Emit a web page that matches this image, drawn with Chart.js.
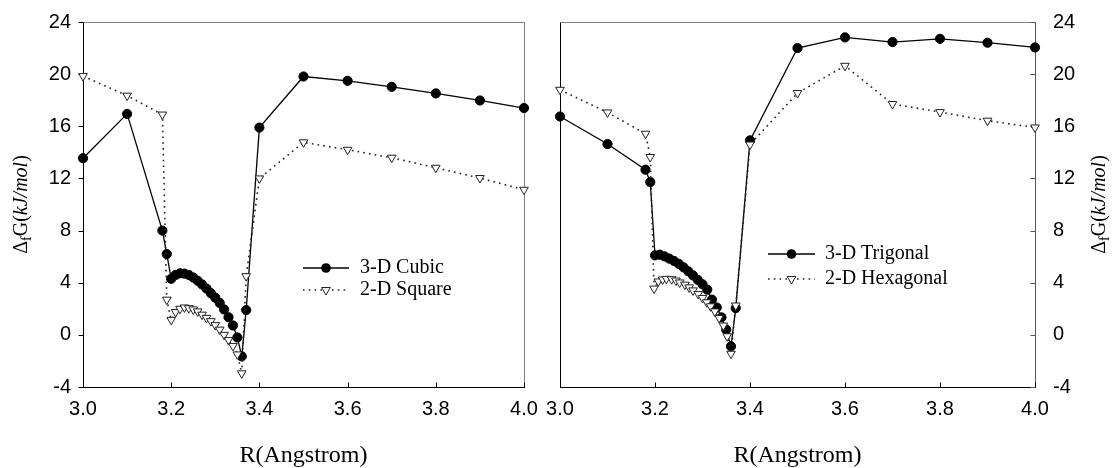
<!DOCTYPE html>
<html><head><meta charset="utf-8">
<script src="https://cdn.jsdelivr.net/npm/chart.js@4/dist/chart.umd.min.js"></script>
<style>
html,body{margin:0;padding:0;background:#fff;}
#wrap{position:relative;width:1112px;height:468px;overflow:hidden;background:#fff;}
.c{position:absolute;}
</style></head><body>
<div id="wrap">
<div class="c" style="left:-40px;top:-20px;width:596px;height:508px"><canvas id="c1" width="596" height="508"></canvas></div>
<div class="c" style="left:516px;top:-20px;width:616px;height:508px"><canvas id="c2" width="616" height="508"></canvas></div>
</div>
<script>
// ---- data ----
const xTickVals = [3.0, 3.2, 3.4, 3.6, 3.8, 4.0];
const xTickLabels = ['3.0', '3.2', '3.4', '3.6', '3.8', '4.0'];
const yTickVals = [-4, 0, 4, 8, 12, 16, 20, 24];
const yTickLabels = ['-4', '0', '4', '8', '12', '16', '20', '24'];

const leftR = [3.0, 3.1, 3.18, 3.19, 3.20, 3.21, 3.22, 3.23, 3.24, 3.25, 3.26, 3.27, 3.28, 3.29, 3.30, 3.31, 3.32, 3.33, 3.34, 3.35, 3.36, 3.37, 3.4, 3.5, 3.6, 3.7, 3.8, 3.9, 4.0];
const cubicG = [13.55, 16.95, 8.0, 6.2, 4.3, 4.6, 4.72, 4.7, 4.6, 4.4, 4.15, 3.87, 3.55, 3.2, 2.85, 2.45, 1.95, 1.35, 0.72, -0.2, -1.65, 1.9, 15.9, 19.82, 19.49, 19.03, 18.52, 17.98, 17.4];
const squareG = [19.85, 18.35, 16.9, 2.7, 1.15, 1.75, 2.0, 2.1, 2.05, 1.95, 1.8, 1.55, 1.3, 1.05, 0.75, 0.4, 0.0, -0.4, -0.85, -1.5, -2.95, 4.5, 12.0, 14.77, 14.2, 13.59, 12.82, 12.03, 11.13];

const trigR = [3.0, 3.1, 3.18, 3.19, 3.20, 3.21, 3.22, 3.23, 3.24, 3.25, 3.26, 3.27, 3.28, 3.29, 3.30, 3.31, 3.32, 3.33, 3.34, 3.35, 3.36, 3.37, 3.4, 3.5, 3.6, 3.7, 3.8, 3.9, 4.0];
const trigG = [16.75, 14.64, 12.67, 11.72, 6.1, 6.15, 6.02, 5.85, 5.67, 5.45, 5.18, 4.88, 4.56, 4.22, 3.88, 3.47, 2.7, 2.1, 1.34, 0.4, -0.88, 2.05, 14.92, 22.0, 22.82, 22.46, 22.71, 22.41, 22.05];

const hexR = [3.0, 3.1, 3.18, 3.19, 3.198, 3.207, 3.216, 3.224, 3.235, 3.244, 3.252, 3.263, 3.272, 3.28, 3.291, 3.30, 3.309, 3.317, 3.326, 3.335, 3.344, 3.352, 3.36, 3.37, 3.4, 3.5, 3.6, 3.7, 3.8, 3.9, 4.0];
const hexG = [18.8, 17.06, 15.43, 13.64, 3.55, 4.1, 4.25, 4.3, 4.27, 4.17, 4.02, 3.85, 3.64, 3.41, 3.13, 2.83, 2.5, 2.19, 1.8, 1.3, 0.71, -0.11, -1.45, 2.25, 14.6, 18.55, 20.64, 17.71, 17.09, 16.43, 15.91];

const xTitle = 'R(Angstrom)';
// ---- helpers ----
const SERIF = '"Liberation Serif", "Times New Roman", serif';
const SANS = '"Liberation Sans", Arial, sans-serif';

function pts(xs, ys) { return xs.map((x, i) => ({ x: x, y: ys[i] })); }

function solidSet(label, xs, ys) {
  return {
    label, data: pts(xs, ys), showLine: true, tension: 0, fill: false, clip: false, order: 2,
    borderColor: '#000', borderWidth: 1.3,
    pointStyle: 'circle', pointRadius: 4.6, pointBackgroundColor: '#000', pointBorderColor: '#000', pointBorderWidth: 1
  };
}
function dotSet(label, xs, ys) {
  return {
    label, data: pts(xs, ys), showLine: true, tension: 0, fill: false, clip: false, order: 1,
    borderColor: '#222', borderWidth: 1.6, borderDash: [1.6, 4.2],
    pointStyle: 'triangle', pointRotation: 180, pointRadius: 5, pointBackgroundColor: '#fff', pointBorderColor: '#222', pointBorderWidth: 1
  };
}

function line(ctx, x1, y1, x2, y2) { ctx.beginPath(); ctx.moveTo(x1, y1); ctx.lineTo(x2, y2); ctx.stroke(); }

function drawCircle(ctx, x, y) {
  ctx.save(); ctx.fillStyle = '#000'; ctx.beginPath(); ctx.arc(x, y, 4.8, 0, Math.PI * 2); ctx.fill(); ctx.restore();
}
function drawTri(ctx, x, y) {
  const r = 5; ctx.save(); ctx.fillStyle = '#fff'; ctx.strokeStyle = '#222'; ctx.lineWidth = 1; ctx.setLineDash([]);
  ctx.beginPath();
  for (let k = 0; k < 3; k++) {
    const a = Math.PI + k * 2 * Math.PI / 3;
    const px = x + Math.sin(a) * r, py = y - Math.cos(a) * r;
    if (k === 0) ctx.moveTo(px, py); else ctx.lineTo(px, py);
  }
  ctx.closePath(); ctx.fill(); ctx.stroke(); ctx.restore();
}

function drawYTitle(ctx, cx, cy) {
  const parts = [
    { t: 'Δ', f: '20px ' + SERIF, dy: 0 },
    { t: 'f', f: '14px ' + SERIF, dy: 5 },
    { t: 'G(', f: '20px ' + SERIF, dy: 0 },
    { t: 'kJ/mol', f: 'italic 20px ' + SERIF, dy: 0 },
    { t: ')', f: '20px ' + SERIF, dy: 0 }
  ];
  ctx.save();
  ctx.translate(cx, cy); ctx.rotate(-Math.PI / 2);
  ctx.fillStyle = '#000'; ctx.textBaseline = 'middle'; ctx.textAlign = 'left';
  let w = 0;
  parts.forEach(p => { ctx.font = p.f; p.w = ctx.measureText(p.t).width; w += p.w; });
  let x = -w / 2;
  parts.forEach(p => { ctx.font = p.f; ctx.fillText(p.t, x, p.dy); x += p.w; });
  ctx.restore();
}

// cfg: canvas offset (ox, oy) in page coords; legend & title given in page coords
function decoPlugin(side, cfg) {
  return {
    id: 'deco_' + side,
    beforeDatasetsDraw(chart) {
      const ctx = chart.ctx, a = chart.chartArea;
      const L = Math.round(a.left) + 0.5, R = Math.round(a.right) + 0.5, T = Math.round(a.top) + 0.5, B = Math.round(a.bottom) + 0.5;
      ctx.save();
      ctx.lineWidth = 1;
      ctx.strokeStyle = '#808080';
      line(ctx, L, T, R, T);
      if (side === 'left') {
        line(ctx, R, T, R, B);
        ctx.strokeStyle = '#000';
        line(ctx, L, T, L, B);
      } else {
        ctx.strokeStyle = '#000';
        line(ctx, L, T, L, B);
        ctx.strokeStyle = '#555';
        line(ctx, R, T, R, B);
      }
      ctx.strokeStyle = '#000';
      line(ctx, L - 0.5, B, R + 0.5, B);
      const xs = chart.scales.x, ys = chart.scales.y;
      xTickVals.forEach(v => { const px = Math.round(xs.getPixelForValue(v)) + 0.5; line(ctx, px, B, px, B - 5); });
      yTickVals.forEach(v => {
        const py = Math.round(ys.getPixelForValue(v)) + 0.5;
        if (side === 'left') { ctx.strokeStyle = '#000'; line(ctx, L - 5, py, L, py); }
        else { ctx.strokeStyle = '#555'; line(ctx, R - 5, py, R, py); }
      });
      ctx.restore();
    },
    afterDraw(chart) {
      const ctx = chart.ctx, a = chart.chartArea;
      const ox = cfg.ox, oy = cfg.oy;
      ctx.save();
      cfg.rows.forEach((row, i) => {
        const y = cfg.ly[i] - oy;
        const x1 = cfg.lx1 - ox, x2 = cfg.lx2 - ox;
        ctx.strokeStyle = i === 0 ? '#000' : '#222';
        ctx.lineWidth = i === 0 ? 1.3 : 1.6;
        ctx.setLineDash(i === 0 ? [] : [1.6, 4.2]);
        line(ctx, x1, y, x2, y);
        ctx.setLineDash([]);
        const mx = (x1 + x2) / 2;
        if (i === 0) drawCircle(ctx, mx, y); else drawTri(ctx, mx, y);
        ctx.fillStyle = '#000'; ctx.font = '20px ' + SERIF; ctx.textBaseline = 'middle'; ctx.textAlign = 'left';
        ctx.fillText(row, cfg.tx - ox, y);
      });
      ctx.restore();
      drawYTitle(ctx, cfg.titleX - ox, (a.top + a.bottom) / 2);
    }
  };
}

function makeScales(side) {
  return {
    x: {
      type: 'linear', min: 3, max: 4,
      afterBuildTicks(s) { s.ticks = xTickVals.map(v => ({ value: v })); },
      ticks: { callback: (v, i) => xTickLabels[i], font: { family: SANS, size: 20 }, color: '#000', padding: 10, maxRotation: 0, autoSkip: false },
      grid: { display: false, drawTicks: false }, border: { display: false },
      title: { display: true, text: xTitle, font: { family: SERIF, size: 24, lineHeight: 1 }, color: '#000', padding: 0 },
      afterFit(s) { s.height = 81; }
    },
    y: {
      type: 'linear', position: side, min: -4, max: 24,
      afterBuildTicks(s) { s.ticks = yTickVals.map(v => ({ value: v })); },
      ticks: { callback: (v, i) => yTickLabels[i], font: { family: SANS, size: 20 }, color: '#000', padding: side === 'left' ? 12 : 18, autoSkip: false },
      grid: { display: false, drawTicks: false }, border: { display: false },
      afterFit(s) { s.width = side === 'left' ? 83 : 77; }
    }
  };
}

function common(pad) {
  return {
    responsive: false, animation: false, devicePixelRatio: 1,
    layout: { padding: pad },
    plugins: { legend: { display: false }, tooltip: { enabled: false } },
    events: []
  };
}

// target plot areas in page coordinates
const target1 = { left: 83, top: 22, right: 524, bottom: 387 };
const target2 = { left: 560, top: 22, right: 1035, bottom: 387 };

function fitArea(chart, t, ox, oy) {
  for (let k = 0; k < 4; k++) {
    const a = chart.chartArea, p = chart.options.layout.padding;
    const dl = (t.left - ox) - a.left, dt = (t.top - oy) - a.top;
    const dr = a.right - (t.right - ox), db = a.bottom - (t.bottom - oy);
    if (Math.abs(dl) < 0.3 && Math.abs(dt) < 0.3 && Math.abs(dr) < 0.3 && Math.abs(db) < 0.3) break;
    p.left += dl; p.top += dt; p.right += dr; p.bottom += db;
    chart.update();
  }
}

const ch1 = new Chart(document.getElementById('c1'), {
  type: 'line',
  data: { datasets: [solidSet('3-D Cubic', leftR, cubicG), dotSet('2-D Square', leftR, squareG)] },
  options: Object.assign(common({ left: 40, right: 72, top: 42, bottom: 20 }), { scales: makeScales('left') }),
  plugins: [decoPlugin('left', { ox: -40, oy: -20, rows: ['3-D Cubic', '2-D Square'], lx1: 303, lx2: 349, tx: 360, ly: [268, 290], titleX: 22 })]
});
fitArea(ch1, target1, -40, -20);

const ch2 = new Chart(document.getElementById('c2'), {
  type: 'line',
  data: { datasets: [solidSet('3-D Trigonal', trigR, trigG), dotSet('2-D Hexagonal', hexR, hexG)] },
  options: Object.assign(common({ left: 44, right: 20, top: 42, bottom: 20 }), { scales: makeScales('right') }),
  plugins: [decoPlugin('right', { ox: 516, oy: -20, rows: ['3-D Trigonal', '2-D Hexagonal'], lx1: 768, lx2: 815, tx: 825, ly: [254, 279], titleX: 1100 })]
});
fitArea(ch2, target2, 516, -20);
</script>
</body></html>
